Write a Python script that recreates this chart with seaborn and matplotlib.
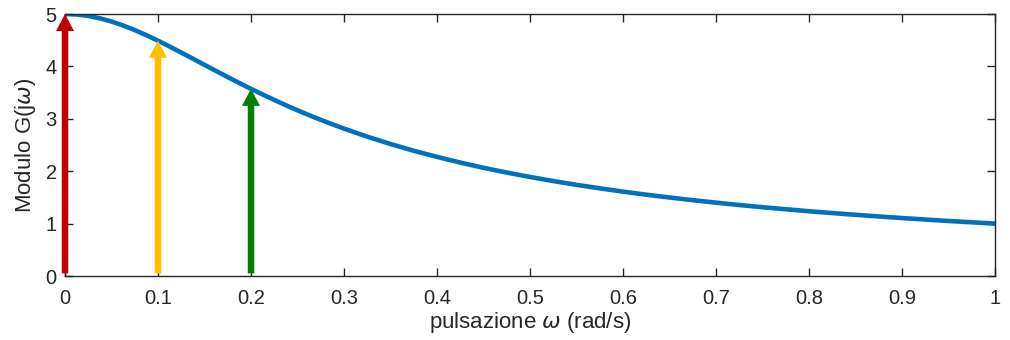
import matplotlib
matplotlib.use("Agg")
import matplotlib.pyplot as plt
import seaborn as sns
import pandas as pd

# Magnitude of the frequency response, sampled along the pulsation axis
omega = [0.0, 0.0125, 0.025, 0.0375, 0.05, 0.0625, 0.075, 0.0875, 0.1,
         0.1125, 0.125, 0.1375, 0.15, 0.1625, 0.175, 0.1875, 0.2, 0.2125,
         0.225, 0.2375, 0.25, 0.2625, 0.275, 0.2875, 0.3, 0.325, 0.35, 0.375,
         0.4, 0.425, 0.45, 0.475, 0.5, 0.525, 0.55, 0.575, 0.6, 0.625, 0.65,
         0.675, 0.7, 0.725, 0.75, 0.775, 0.8, 0.825, 0.85, 0.875, 0.9, 0.925,
         0.95, 0.975, 1.0]
modulo = [5.0, 4.991, 4.963, 4.918, 4.856, 4.781, 4.693, 4.596, 4.490,
          4.379, 4.264, 4.147, 4.029, 3.912, 3.796, 3.682, 3.571, 3.464,
          3.360, 3.259, 3.162, 3.069, 2.980, 2.895, 2.813, 2.659, 2.519, 2.390,
          2.273, 2.165, 2.065, 1.974, 1.890, 1.812, 1.740, 1.673, 1.610, 1.552,
          1.498, 1.447, 1.400, 1.355, 1.313, 1.274, 1.236, 1.201, 1.168, 1.136,
          1.106, 1.078, 1.050, 1.025, 1.0]

# Harmonic components shown as arrows
arrow_omega = [0.0, 0.1, 0.2]
arrow_mod = [5.0, 4.490, 3.571]
arrow_colors = ["#C00000", "#FFC000", "#007F00"]

sns.set_theme(style="ticks")
plt.rcParams["font.family"] = ["Liberation Sans", "DejaVu Sans"]
plt.rcParams["mathtext.fontset"] = "dejavusans"

W, H = 1010, 340
fig = plt.figure(figsize=(W / 100, H / 100), dpi=100)
ax_px = (65, 14, 930, 262)  # left, top, width, height in pixels
ax = fig.add_axes([ax_px[0] / W, 1 - (ax_px[1] + ax_px[3]) / H,
                   ax_px[2] / W, ax_px[3] / H])

df = pd.DataFrame({"omega": omega, "modulo": modulo})
sns.lineplot(data=df, x="omega", y="modulo", ax=ax, color="#0072BD",
             linewidth=3.3, zorder=2)

ax.set_xlim(0, 1)
ax.set_ylim(0, 5)

# Arrow geometry converted from pixels to data units
px_x = 1.0 / ax_px[2]
px_y = 5.0 / ax_px[3]
for x, v, c in zip(arrow_omega, arrow_mod, arrow_colors):
    ax.arrow(x, 0.05, 0, v - 0.05, width=6.5 * px_x, head_width=18 * px_x,
             head_length=17 * px_y, length_includes_head=True,
             color=c, linewidth=0, zorder=3, clip_on=False)

ax.set_xticks([i / 10 for i in range(11)])
ax.set_xticklabels(["0", "0.1", "0.2", "0.3", "0.4", "0.5", "0.6", "0.7",
                    "0.8", "0.9", "1"])
ax.set_yticks(range(6))
ax.set_xlabel(r"pulsazione $\omega$ (rad/s)", fontsize=16, color="#262626",
              labelpad=2)
ax.set_ylabel(r"Modulo G(j$\omega$)", fontsize=16, color="#262626", labelpad=5)

for s in ax.spines.values():
    s.set_visible(True)
    s.set_color("#262626")
    s.set_linewidth(1.0)
ax.tick_params(direction="in", length=6, width=1.0, top=True, right=True,
               labelsize=14.5, colors="#262626")
ax.tick_params(axis="x", pad=9)
ax.tick_params(axis="y", pad=6)

fig.savefig("out.png", dpi=100)
